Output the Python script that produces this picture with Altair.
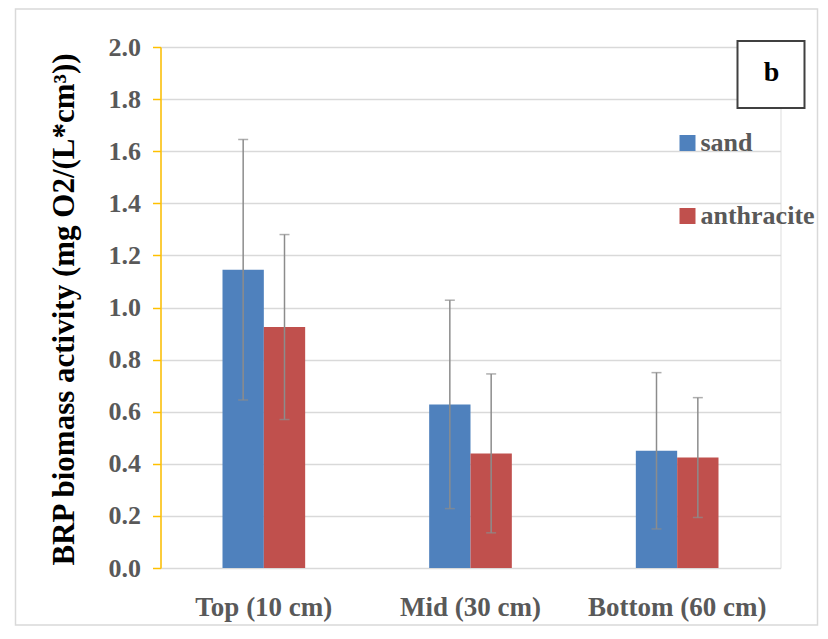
import altair as alt
import pandas as pd

depths = ["Top (10 cm)", "Mid (30 cm)", "Bottom (60 cm)"]
media = ["sand", "anthracite"]
sand_mean = [1.145, 0.628, 0.450]
sand_sd = [0.50, 0.40, 0.30]
anth_mean = [0.925, 0.440, 0.424]
anth_sd = [0.355, 0.305, 0.23]
y_ticks = [0.0, 0.2, 0.4, 0.6, 0.8, 1.0, 1.2, 1.4, 1.6, 1.8, 2.0]
colors = ["#4F81BD", "#C0504D"]

rows = []
for i, d in enumerate(depths):
    rows.append({"depth": d, "medium": "sand", "value": sand_mean[i],
                 "low": sand_mean[i] - sand_sd[i], "high": sand_mean[i] + sand_sd[i]})
    rows.append({"depth": d, "medium": "anthracite", "value": anth_mean[i],
                 "low": anth_mean[i] - anth_sd[i], "high": anth_mean[i] + anth_sd[i]})
df = pd.DataFrame(rows)

SERIF = "'Times New Roman', 'Liberation Serif', serif"
GRAY = "#595959"

x_enc = alt.X("depth:N", sort=depths,
              scale=alt.Scale(paddingInner=0.6, paddingOuter=0.3),
              axis=alt.Axis(title=None, labelAngle=0, domain=False, ticks=False, grid=False,
                            labelFont=SERIF, labelFontSize=27, labelFontWeight="bold",
                            labelColor=GRAY, labelPadding=26))
xoff = alt.XOffset("medium:N", sort=media, scale=alt.Scale(paddingInner=0, paddingOuter=0))

bars = alt.Chart(df).mark_bar().encode(
    x=x_enc,
    xOffset=xoff,
    y=alt.Y("value:Q", scale=alt.Scale(domain=[0, 2], nice=False),
            axis=alt.Axis(values=y_ticks, format=".1f",
                          title="BRP biomass activity (mg O2/(L*cm³))",
                          titleFont=SERIF, titleFontSize=31, titleFontWeight="bold",
                          titleColor="#000000", titleAngle=270, titleX=-96, titleY=262,
                          titleAlign="center", titleBaseline="middle",
                          labelFont=SERIF, labelFontSize=26, labelFontWeight="bold",
                          labelColor=GRAY, labelPadding=12,
                          domainColor="#FFC000", domainWidth=1.5,
                          tickColor="#FFC000", tickSize=8, tickWidth=1.5,
                          gridColor="#D9D9D9", gridWidth=1.5)),
    color=alt.Color("medium:N", sort=media,
                    scale=alt.Scale(domain=media, range=colors),
                    legend=alt.Legend(title=None, orient="none", legendX=514, legendY=83,
                                      symbolType="square", symbolSize=256, symbolStrokeWidth=0,
                                      labelFont=SERIF, labelFontSize=26, labelFontWeight="bold",
                                      labelColor=GRAY, rowPadding=47, labelOffset=0, padding=0)),
)

rules = alt.Chart(df).mark_rule(color="#8C8C8C", strokeWidth=1.5).encode(
    x=alt.X("depth:N", sort=depths), xOffset=alt.XOffset("medium:N", sort=media),
    y="low:Q", y2="high:Q")

caps_hi = alt.Chart(df).mark_tick(color="#8C8C8C", thickness=1.5, size=10, orient="horizontal").encode(
    x=alt.X("depth:N", sort=depths), xOffset=alt.XOffset("medium:N", sort=media), y="high:Q")
caps_lo = alt.Chart(df).mark_tick(color="#8C8C8C", thickness=1.5, size=10, orient="horizontal").encode(
    x=alt.X("depth:N", sort=depths), xOffset=alt.XOffset("medium:N", sort=media), y="low:Q")

one = pd.DataFrame({"label": ["b"]})
border = alt.Chart(one).mark_rect(fill="transparent", stroke="#D9D9D9", strokeWidth=1.5).encode(
    x=alt.value(-145), x2=alt.value(657), y=alt.value(-38), y2=alt.value(578))
box = alt.Chart(one).mark_rect(fill="white", stroke="#404040", strokeWidth=2).encode(
    x=alt.value(577), x2=alt.value(644), y=alt.value(-6), y2=alt.value(61))
btext = alt.Chart(one).mark_text(font=SERIF, fontSize=28, fontWeight="bold", color="#000000",
                                  align="center", baseline="middle").encode(
    x=alt.value(611), y=alt.value(26), text="label:N")

chart = alt.layer(border, bars, rules, caps_hi, caps_lo, box, btext).properties(
    width=620, height=521,
    autosize=alt.AutoSizeParams(type="none"),
    padding={"left": 152.5, "top": 39, "right": 39, "bottom": 58},
).configure_view(stroke=None).configure(background="white")

chart.save("out.html", embed_options={"renderer": "svg", "actions": False})
